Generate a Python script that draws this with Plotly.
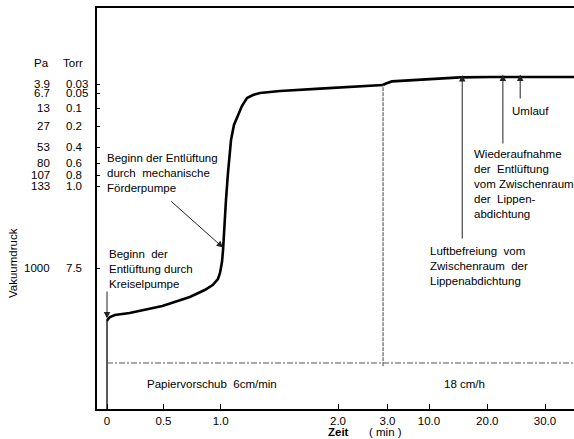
import numpy as np
import plotly.graph_objects as go

# ---------------- scales / tick labels ----------------
# x axis: time in minutes, non-uniform chart scale (paper feed changes at ~3 min)
X_TICK_MIN = [0, 0.5, 1.0, 2.0, 3.0, 10.0, 20.0, 30.0]
X_TICK_POS = [10, 66.5, 123.7, 241, 290.5, 332, 390.3, 448]
X_TICK_TEXT = ["0", "0.5", "1.0", "2.0", "3.0", "10.0", "20.0", "30.0"]

# y axis: gauge scale divisions, labelled in Pa and Torr
Y_TICK_DIV = [81.25, 79.0, 75.25, 70.75, 65.5, 61.5, 58.5, 55.75, 35.25]
Y_TICK_PA = ["3.9", "6.7", "13", "27", "53", "80", "107", "133", "1000"]
Y_TICK_TORR = ["0.03", "0.05", "0.1", "0.2", "0.4", "0.6", "0.8", "1.0", "7.5"]

# ---------------- data ----------------
# segment 1: paper feed 6 cm/min
T1 = [0.0, 0.009, 0.026, 0.07, 0.2, 0.49, 0.73, 0.86, 0.93, 0.976, 0.994, 1.011,
      1.02, 1.028, 1.045, 1.062, 1.088, 1.113, 1.139, 1.181, 1.224, 1.275, 1.335,
      1.506, 1.847, 2.24, 2.91]
P1 = [22.0, 22.5, 23.0, 23.5, 24.0, 25.75, 28.0, 29.75, 31.0, 32.5, 34.0, 36.75,
      39.75, 44.75, 52.25, 59.0, 67.25, 71.0, 73.0, 75.75, 77.75, 78.5, 79.0,
      79.5, 80.1, 80.5, 81.0]
# segment 2: paper feed 18 cm/h
T2 = [2.91, 2.97, 3.76, 5.95, 8.48, 11.9, 15.3, 20.5, 27.4, 35.1]
P2 = [81.0, 81.4, 81.9, 82.1, 82.4, 82.6, 82.9, 83.0, 83.0, 83.0]

CHANGE_T = 2.91          # paper-feed change
FEED_LEVEL = 11.5        # paper-feed reference line

# events (time in min) marked by arrows
EV_T = [0.0, 1.02, 15.7, 22.7, 25.7]


def tpos(t):
    t = np.asarray(t, dtype=float)
    pos = np.interp(t, X_TICK_MIN, X_TICK_POS)
    slope = (X_TICK_POS[-1] - X_TICK_POS[-2]) / (X_TICK_MIN[-1] - X_TICK_MIN[-2])
    return np.where(t > X_TICK_MIN[-1], X_TICK_POS[-1] + (t - X_TICK_MIN[-1]) * slope, pos)


def curve_at(t):
    if t <= CHANGE_T:
        return float(np.interp(t, T1, P1))
    return float(np.interp(t, T2, P2))


# figure pixel helpers for text placement (layout only)
L, R, T, B, W, H = 97, 0, 8, 30, 574, 439
PW, PH = W - L - R, H - T - B


def px(xp):
    return (xp - L) / PW


def py(yp):
    return (H - B - yp) / PH


FONT = "Liberation Sans, Arial, sans-serif"
FS = 11.5
fig = go.Figure()

fig.add_trace(go.Scatter(x=tpos(T1), y=P1, mode="lines",
                         line=dict(color="black", width=2.6), hoverinfo="skip"))
fig.add_trace(go.Scatter(x=tpos(T2), y=P2, mode="lines",
                         line=dict(color="black", width=2.6), hoverinfo="skip"))

x_end = float(tpos(T2[-1]))
# vertical line at start
fig.add_shape(type="line", x0=float(tpos(0)), x1=float(tpos(0)), y0=0, y1=P1[0],
              line=dict(color="black", width=1.3))
# vertical line at paper feed change
fig.add_shape(type="line", x0=float(tpos(CHANGE_T)), x1=float(tpos(CHANGE_T)),
              y0=FEED_LEVEL - 0.8, y1=P1[-1], line=dict(color="#444", width=1, dash="4px,1px"))
# paper feed dashed line
fig.add_shape(type="line", x0=float(tpos(0)), x1=x_end, y0=FEED_LEVEL, y1=FEED_LEVEL,
              line=dict(color="#555", width=1, dash="6px,2px,2px,2px"))

# arrows: (tail time, tail level)
tails = [(0.0, 29.75), (0.554, 52.25), (15.7, 42.25), (22.7, 66.0), (25.7, 77.25)]
for te, (tt, ty) in zip(EV_T, tails):
    fig.add_annotation(x=float(tpos(te)), y=curve_at(te) + 0.6, ax=float(tpos(tt)), ay=ty,
                       xref="x", yref="y", axref="x", ayref="y", text="",
                       showarrow=True, arrowhead=2, arrowsize=1.3, arrowwidth=1,
                       arrowcolor="#222", standoff=0)


def label(xp, yp, s, xanchor="center", yanchor="middle", yref="paper", **kw):
    fig.add_annotation(x=px(xp), y=(py(yp) if yref == "paper" else yp), xref="paper",
                       yref=yref, text=s, showarrow=False, xanchor=xanchor,
                       yanchor=yanchor, font=dict(size=FS, family=FONT), **kw)


# y labels (two columns)
label(51, 63, "Pa", xanchor="right")
label(61, 63, "Torr", xanchor="left")
for d, pa, torr in zip(Y_TICK_DIV, Y_TICK_PA, Y_TICK_TORR):
    label(52, d, pa, xanchor="right", yref="y")
    label(64, d, torr, xanchor="left", yref="y")

label(13, 263, "Vakuumdruck", textangle=-90)
label(338, 432, "<b>Zeit</b>")
label(385, 432, "( min )")

texts = [
    (105, 157, "Beginn der Entlüftung<br>durch  mechanische<br>Förderpumpe"),
    (107, 253, "Beginn  der<br>Entlüftung durch<br>Kreiselpumpe"),
    (428, 250, "Luftbefreiung  vom<br>Zwischenraum  der<br>Lippenabdichtung"),
    (472, 153, "Wiederaufnahme<br>der  Entlüftung<br>vom Zwischenraum<br>der  Lippen-<br>abdichtung"),
    (510, 110, "Umlauf"),
    (145, 383, "Papiervorschub  6cm/min"),
    (442, 383, "18 cm/h"),
]
for xl, yt, s in texts:
    label(xl, yt - 7, s, xanchor="left", yanchor="top", align="left")

fig.update_xaxes(range=[0, PW], tickvals=tpos(X_TICK_MIN).tolist(), ticktext=X_TICK_TEXT,
                 ticks="inside", ticklen=5, tickcolor="black", showline=True, linecolor="black",
                 linewidth=1.5, mirror=True, showgrid=False, zeroline=False,
                 tickfont=dict(size=FS, family=FONT, color="black"))
fig.update_yaxes(range=[0, PH / 4.0], tickvals=Y_TICK_DIV, showticklabels=False,
                 ticks="inside", ticklen=3, tickcolor="black", showline=True, linecolor="black",
                 linewidth=1.5, showgrid=False, zeroline=False)
fig.update_layout(width=W, height=H, margin=dict(l=L, r=R, t=T, b=B),
                  plot_bgcolor="white", paper_bgcolor="white", showlegend=False,
                  font=dict(family=FONT, color="black"))
fig.write_html("out.html", config={"displayModeBar": False},
               post_script="document.body.style.margin='0';document.body.style.overflow='hidden';")
